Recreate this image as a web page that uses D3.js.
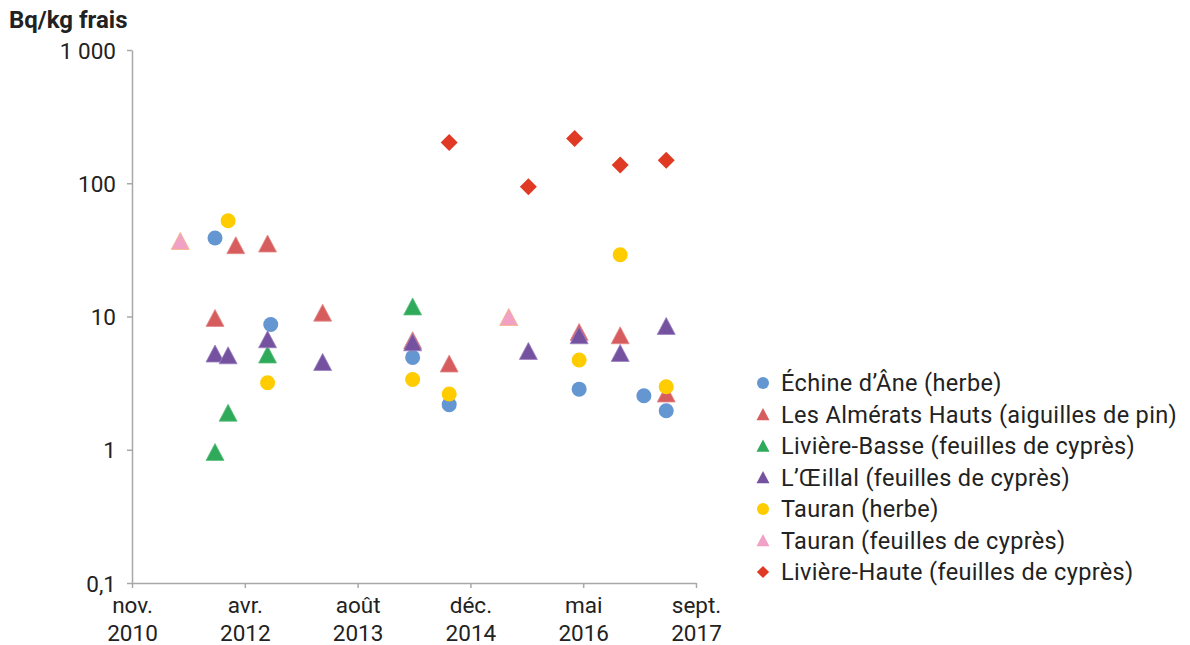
<!DOCTYPE html>
<html>
<head>
<meta charset="utf-8">
<script src="https://cdn.jsdelivr.net/npm/d3@7"></script>
<style>
  body { margin: 0; background: #fff; }
  svg text { font-family: Roboto, "Noto Sans", sans-serif; fill: #222; }
</style>
</head>
<body>
<svg id="chart" width="1190" height="645"></svg>
<script>
// ---- data ----
const seriesNames = [
  "Échine d’Âne (herbe)",
  "Les Almérats Hauts (aiguilles de pin)",
  "Livière-Basse (feuilles de cyprès)",
  "L’Œillal (feuilles de cyprès)",
  "Tauran (herbe)",
  "Tauran (feuilles de cyprès)",
  "Livière-Haute (feuilles de cyprès)"
];
const seriesShapes = ["circle", "triangle", "triangle", "triangle", "circle", "triangle", "diamond"];
const seriesColors = ["#6496d2", "#d65c5e", "#2fa95a", "#7552a0", "#ffcc00", "#f2a1c6", "#e03a24"];
const seriesStrokes = ["none", "#e48a8a", "#5cc07e", "#9a80c0", "none", "#f7b27a", "none"];

const echineDates  = ["2011-11-23","2012-07-27","2014-04-17","2014-09-26","2016-04-24","2017-02-05","2017-05-15"];
const echineValues = [38.8, 8.7, 4.93, 2.18, 2.85, 2.54, 1.96];

const almeratsDates  = ["2011-11-23","2012-02-23","2012-07-13","2013-03-14","2014-04-17","2014-09-26","2016-04-24","2016-10-23","2017-05-15"];
const almeratsValues = [9.67, 34, 35, 10.6, 6.58, 4.4, 7.6, 7.17, 2.62];

const liviereBasseDates  = ["2011-11-23","2012-01-20","2012-07-13","2014-04-17"];
const liviereBasseValues = [0.954, 1.88, 5.14, 11.8];

const oeillalDates  = ["2011-11-23","2012-01-20","2012-07-13","2013-03-14","2014-04-17","2015-09-12","2016-04-24","2016-10-23","2017-05-15"];
const oeillalValues = [5.23, 5.07, 6.69, 4.52, 6.35, 5.47, 7.17, 5.28, 8.42];

const tauranHerbeDates  = ["2012-01-20","2012-07-13","2014-04-17","2014-09-26","2016-04-24","2016-10-23","2017-05-15"];
const tauranHerbeValues = [52.3, 3.18, 3.37, 2.62, 4.71, 29.1, 2.97];

const tauranCypresDates  = ["2011-06-22","2015-06-17"];
const tauranCypresValues = [36.6, 9.84];

const liviereHauteDates  = ["2014-09-26","2015-09-12","2016-04-04","2016-10-23","2017-05-15"];
const liviereHauteValues = [202, 94.2, 217, 137, 149];

const seriesDates  = [echineDates, almeratsDates, liviereBasseDates, oeillalDates, tauranHerbeDates, tauranCypresDates, liviereHauteDates];
const seriesValues = [echineValues, almeratsValues, liviereBasseValues, oeillalValues, tauranHerbeValues, tauranCypresValues, liviereHauteValues];

const xTickDates  = ["2010-11-20","2012-04-03","2013-08-16","2014-12-29","2016-05-12","2017-09-24"];
const xTickMonths = ["nov.","avr.","août","déc.","mai","sept."];
const xTickYears  = ["2010","2012","2013","2014","2016","2017"];
const yTickValues = [0.1, 1, 10, 100, 1000];
const yTickLabels = ["0,1", "1", "10", "100", "1 000"];
const yTitle = "Bq/kg frais";

// ---- chart ----
const svg = d3.select("#chart");
const parse = d3.utcParse("%Y-%m-%d");
const x = d3.scaleUtc().domain([parse(xTickDates[0]), parse(xTickDates[xTickDates.length - 1])]).range([132, 696]);
const y = d3.scaleLog().domain([0.1, 1000]).range([583, 50]);

const axisColor = "#a8a8a8";
const tickFont = 22.5;

// y axis
const yAxis = svg.append("g").attr("transform", "translate(132,0)")
  .call(d3.axisLeft(y).tickValues(yTickValues).tickSize(5).tickSizeOuter(0)
        .tickFormat((d, i) => yTickLabels[i]));
yAxis.select(".domain").attr("stroke", axisColor).attr("stroke-width", 1.5);
yAxis.selectAll(".tick line").attr("stroke", axisColor).attr("stroke-width", 1.5);
yAxis.selectAll(".tick text").attr("x", -16).attr("font-size", tickFont).attr("dy", "0.36em").style("fill", "#222");

// x axis
const xAxis = svg.append("g").attr("transform", "translate(0,583)")
  .call(d3.axisBottom(x).tickValues(xTickDates.map(parse)).tickSize(5).tickSizeOuter(0).tickFormat(""));
xAxis.select(".domain").attr("stroke", axisColor).attr("stroke-width", 1.5);
xAxis.selectAll(".tick line").attr("stroke", axisColor).attr("stroke-width", 1.5);
xAxis.selectAll(".tick").each(function(d, i) {
  const g = d3.select(this);
  g.select("text").remove();
  g.append("text").attr("text-anchor", "middle").attr("y", 30).attr("font-size", tickFont).text(xTickMonths[i]);
  g.append("text").attr("text-anchor", "middle").attr("y", 58).attr("font-size", tickFont).text(xTickYears[i]);
});

// y title
svg.append("text").attr("x", 9).attr("y", 28).attr("font-size", 24).attr("font-weight", "bold").text(yTitle);

// symbol path generator
function shapePath(shape) {
  if (shape === "circle") return d3.symbol(d3.symbolCircle, Math.PI * 7.5 * 7.5)();
  if (shape === "diamond") return "M0,-8.5L8.5,0L0,8.5L-8.5,0Z";
  return "M0,-9L9,8L-9,8Z";
}

// points
seriesNames.forEach((name, si) => {
  const pts = seriesDates[si].map((d, i) => ({ date: parse(d), value: seriesValues[si][i] }));
  svg.append("g").selectAll("path").data(pts).join("path")
    .attr("d", shapePath(seriesShapes[si]))
    .attr("transform", d => `translate(${x(d.date)},${y(d.value)})`)
    .attr("fill", seriesColors[si])
    .attr("stroke", seriesStrokes[si])
    .attr("stroke-width", seriesStrokes[si] === "none" ? 0 : 0.8);
});

// legend
const legend = svg.append("g").attr("transform", "translate(763,383)");
seriesNames.forEach((name, si) => {
  const row = legend.append("g").attr("transform", `translate(0,${si * 31.5})`);
  const sz = seriesShapes[si] === "circle" ? 0.8 : 0.72;
  row.append("path").attr("d", shapePath(seriesShapes[si]))
    .attr("transform", `scale(${sz})`)
    .attr("fill", seriesColors[si]);
  row.append("text").attr("x", 18).attr("dy", "0.36em").attr("font-size", 23.5)
    .attr("letter-spacing", 0.35).text(name);
});
</script>
</body>
</html>
